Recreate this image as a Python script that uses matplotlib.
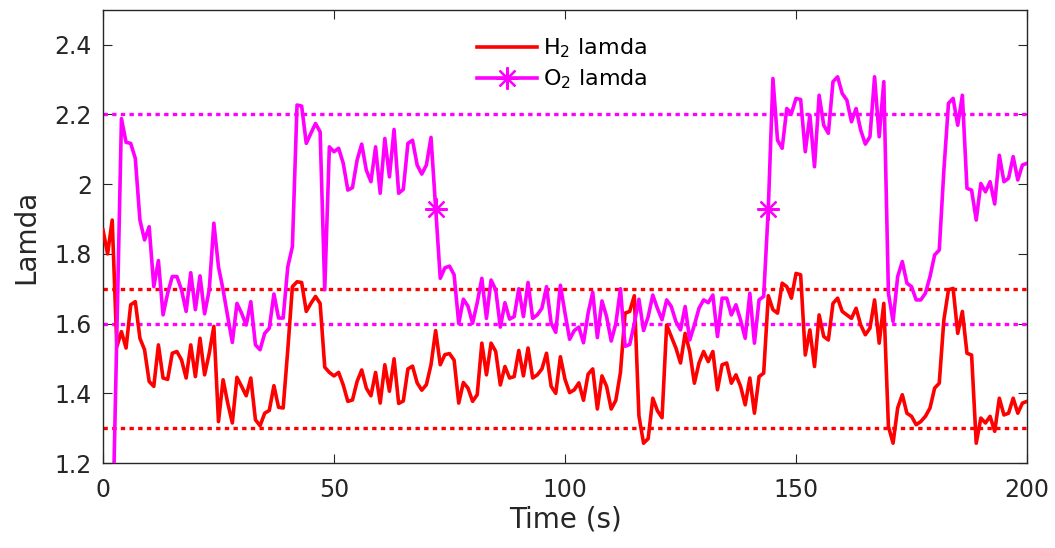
"""
H2 / O2 lamda over time, with the target bands drawn as dotted lines.
"""

import numpy as np
import matplotlib
matplotlib.use("Agg")
import matplotlib.pyplot as plt

# time axis, one sample per second
time_s = np.arange(0, 201)

h2_lamda = [
    1.869, 1.80, 1.897, 1.534, 1.577, 1.53, 1.654, 1.663, 1.558, 1.525,
    1.434, 1.42, 1.539, 1.444, 1.44, 1.515, 1.52, 1.496, 1.444, 1.539,
    1.448, 1.558, 1.453, 1.515, 1.592, 1.319, 1.439, 1.372, 1.315, 1.446,
    1.42, 1.393, 1.444, 1.324, 1.307, 1.343, 1.351, 1.422, 1.36, 1.358,
    1.525, 1.706, 1.72, 1.718, 1.635, 1.658, 1.678, 1.658, 1.475, 1.46,
    1.45, 1.46, 1.424, 1.377, 1.381, 1.434, 1.467, 1.415, 1.393, 1.46,
    1.372, 1.482, 1.406, 1.499, 1.371, 1.378, 1.47, 1.478, 1.43, 1.409,
    1.425, 1.482, 1.58, 1.482, 1.511, 1.514, 1.495, 1.372, 1.431, 1.415,
    1.377, 1.396, 1.544, 1.453, 1.544, 1.52, 1.424, 1.477, 1.444, 1.448,
    1.523, 1.45, 1.53, 1.444, 1.453, 1.47, 1.515, 1.42, 1.40, 1.505,
    1.44, 1.402, 1.41, 1.43, 1.38, 1.455, 1.47, 1.355, 1.45, 1.42,
    1.355, 1.38, 1.46, 1.63, 1.635, 1.68, 1.335, 1.257, 1.27, 1.386,
    1.35, 1.33, 1.596, 1.563, 1.53, 1.487, 1.572, 1.52, 1.429, 1.487,
    1.52, 1.491, 1.52, 1.41, 1.482, 1.487, 1.429, 1.453, 1.42, 1.367,
    1.444, 1.343, 1.448, 1.458, 1.68, 1.64, 1.63, 1.716, 1.706, 1.673,
    1.744, 1.74, 1.51, 1.582, 1.477, 1.625, 1.563, 1.553, 1.658, 1.673,
    1.635, 1.625, 1.615, 1.644, 1.596, 1.568, 1.587, 1.668, 1.544, 1.658,
    1.305, 1.257, 1.358, 1.396, 1.343, 1.334, 1.31, 1.319, 1.334, 1.358,
    1.415, 1.429, 1.611, 1.697, 1.701, 1.572, 1.635, 1.515, 1.51, 1.257,
    1.329, 1.315, 1.334, 1.291, 1.386, 1.338, 1.343, 1.386, 1.343, 1.372,
    1.377,
]

o2_lamda = [
    0.80, 0.85, 0.95, 1.57, 2.188, 2.12, 2.117, 2.074, 1.897, 1.84,
    1.878, 1.706, 1.781, 1.625, 1.687, 1.735, 1.735, 1.697, 1.635, 1.746,
    1.64, 1.737, 1.628, 1.697, 1.888, 1.763, 1.697, 1.62, 1.546, 1.658,
    1.63, 1.596, 1.663, 1.539, 1.525, 1.572, 1.587, 1.685, 1.616, 1.616,
    1.763, 1.821, 2.227, 2.224, 2.117, 2.146, 2.174, 2.15, 1.697, 2.107,
    2.093, 2.103, 2.06, 1.983, 1.99, 2.069, 2.115, 2.04, 2.007, 2.107,
    1.974, 2.131, 2.021, 2.157, 1.974, 1.985, 2.117, 2.126, 2.055, 2.029,
    2.055, 2.134, 1.93, 1.73, 1.76, 1.765, 1.74, 1.60, 1.67, 1.65,
    1.601, 1.66, 1.73, 1.615, 1.725, 1.697, 1.59, 1.66, 1.613, 1.62,
    1.70, 1.62, 1.718, 1.615, 1.625, 1.644, 1.706, 1.601, 1.575, 1.71,
    1.63, 1.555, 1.58, 1.59, 1.545, 1.63, 1.69, 1.56, 1.665, 1.62,
    1.55, 1.60, 1.70, 1.535, 1.54, 1.60, 1.67, 1.58, 1.62, 1.682,
    1.644, 1.611, 1.668, 1.649, 1.606, 1.582, 1.649, 1.553, 1.596, 1.644,
    1.668, 1.66, 1.682, 1.563, 1.673, 1.673, 1.625, 1.654, 1.61, 1.558,
    1.687, 1.544, 1.668, 1.678, 1.93, 2.303, 2.126, 2.103, 2.217, 2.203,
    2.246, 2.243, 2.093, 2.198, 2.05, 2.255, 2.169, 2.146, 2.294, 2.308,
    2.26, 2.241, 2.179, 2.217, 2.155, 2.115, 2.136, 2.308, 2.136, 2.294,
    1.687, 1.606, 1.735, 1.778, 1.716, 1.706, 1.668, 1.668, 1.687, 1.735,
    1.797, 1.811, 2.04, 2.232, 2.246, 2.169, 2.255, 1.988, 1.983, 1.897,
    2.002, 1.978, 2.007, 1.943, 2.083, 2.007, 2.017, 2.079, 2.012, 2.055,
    2.06,
]

# target bands
h2_band = [1.3, 1.7]
o2_band = [1.6, 2.2]

x_ticks = [0, 50, 100, 150, 200]
y_ticks = [1.2, 1.4, 1.6, 1.8, 2.0, 2.2, 2.4]
y_tick_labels = ["1.2", "1.4", "1.6", "1.8", "2", "2.2", "2.4"]

RED = (1, 0, 0)
MAGENTA = (1, 0, 1)
AXIS_GREY = (0.15, 0.15, 0.15)

plt.rcParams["font.family"] = ["DejaVu Sans"]

fig = plt.figure(figsize=(10.55, 5.48), dpi=100)
ax = fig.add_axes([0.0976, 0.155, 0.8759, 0.827])

ax.plot(time_s, h2_lamda, color=RED, linewidth=2.6, label="H$_2$ lamda", zorder=3)
ax.plot(time_s, o2_lamda, color=MAGENTA, linewidth=2.6, marker=(8, 2, 0),
        markersize=16, markeredgewidth=1.6, markevery=72, label="O$_2$ lamda", zorder=3)

for y in h2_band:
    ax.axhline(y, color=RED, linewidth=2.4, dashes=(1.3, 1.3), zorder=2)
for y in o2_band:
    ax.axhline(y, color=MAGENTA, linewidth=2.4, dashes=(1.3, 1.3), zorder=2)

ax.set_xlim(0, 200)
ax.set_ylim(1.2, 2.5)
ax.set_xticks(x_ticks)
ax.set_yticks(y_ticks)
ax.set_yticklabels(y_tick_labels)
ax.tick_params(direction="in", length=6.5, width=0.8, top=True, right=True,
               labelsize=17, colors=AXIS_GREY, labelcolor=(0.15, 0.15, 0.15))
ax.tick_params(axis="x", pad=11)
ax.tick_params(axis="y", pad=8)
for s in ax.spines.values():
    s.set_color(AXIS_GREY)
    s.set_linewidth(1.0)

ax.set_xlabel("Time (s)", fontsize=20, color=AXIS_GREY, labelpad=2)
ax.set_ylabel("Lamda", fontsize=20, color=AXIS_GREY, labelpad=10)

ax.legend(loc="upper center", bbox_to_anchor=(0.497, 0.975), frameon=False, fontsize=16,
          handlelength=2.7, handletextpad=0.3, labelspacing=0.32, borderaxespad=0.3)

fig.savefig("out.png", dpi=100)
